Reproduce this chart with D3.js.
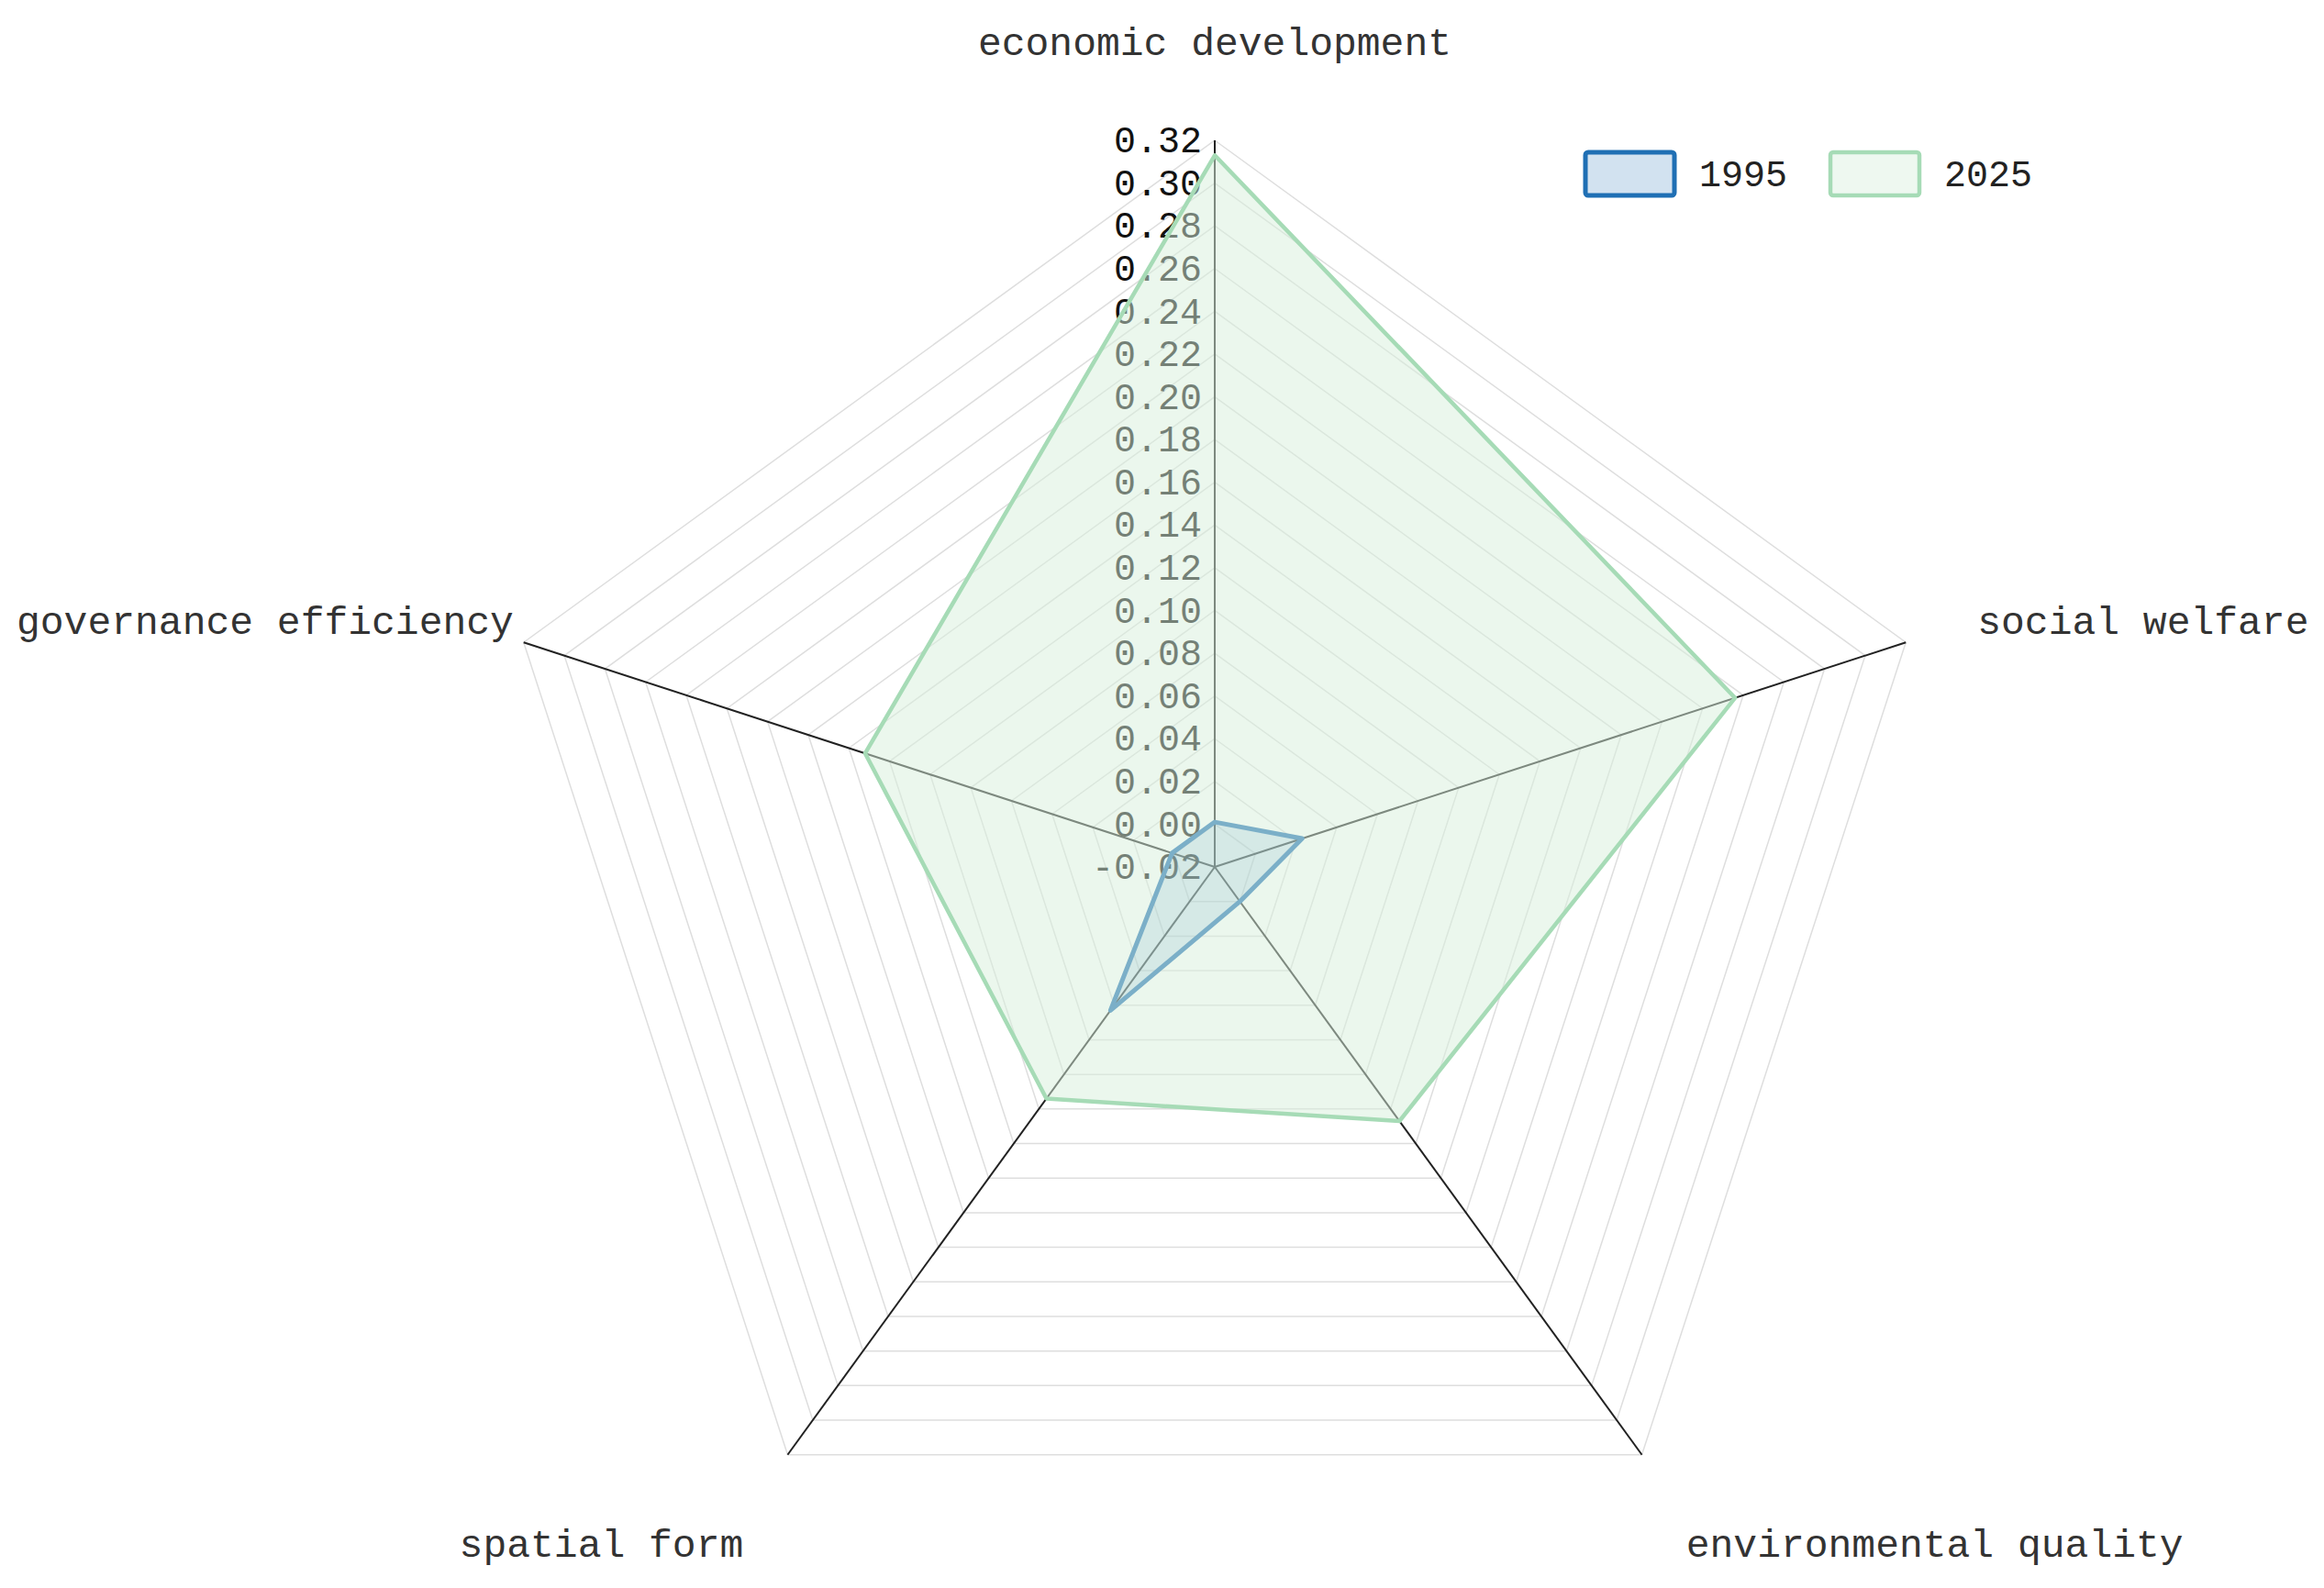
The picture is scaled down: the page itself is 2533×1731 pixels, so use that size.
<!DOCTYPE html>
<html>
<head>
<meta charset="utf-8">
<script src="https://cdn.jsdelivr.net/npm/d3@7/dist/d3.min.js"></script>
<style>
  html, body { margin: 0; padding: 0; background: #fff; }
  svg text { font-family: "Liberation Mono", "DejaVu Sans Mono", monospace; }
</style>
</head>
<body>
<svg id="chart" width="2533" height="1731"></svg>
<script>
// dimensions of the radar
var categories = ["economic development", "social welfare", "environmental quality", "spatial form", "governance efficiency"];
var seriesNames = ["1995", "2025"];
var values1995 = [0.001, 0.023, 0.000, 0.063, 0.001];
var values2025 = [0.313, 0.236, 0.127, 0.114, 0.152];
var tickValues = [-0.02, 0.00, 0.02, 0.04, 0.06, 0.08, 0.10, 0.12, 0.14, 0.16, 0.18, 0.20, 0.22, 0.24, 0.26, 0.28, 0.30, 0.32];

var svg = d3.select("#chart");
var cx = 1324, cy = 945, R = 792;

var r = d3.scaleLinear().domain([-0.02, 0.32]).range([0, R]);

// angle of each axis, clockwise from the top
function angle(i) { return -Math.PI / 2 + i * 2 * Math.PI / categories.length; }
function pt(i, v) {
  var a = angle(i);
  return [cx + r(v) * Math.cos(a), cy + r(v) * Math.sin(a)];
}

var g = svg.append("g");

// grid rings
var ringVals = tickValues.slice(1);
g.selectAll(".ring")
  .data(ringVals)
  .enter().append("polygon")
    .attr("class", "ring")
    .attr("points", function(v) {
      return categories.map(function(c, i) { return pt(i, v).join(","); }).join(" ");
    })
    .attr("fill", "none")
    .attr("stroke", "#dedede")
    .attr("stroke-width", 1.5);

// axis lines
g.selectAll(".axis-line")
  .data(categories)
  .enter().append("line")
    .attr("x1", cx).attr("y1", cy)
    .attr("x2", function(d, i) { return pt(i, 0.32)[0]; })
    .attr("y2", function(d, i) { return pt(i, 0.32)[1]; })
    .attr("stroke", "#222")
    .attr("stroke-width", 2);

// radial tick labels on the first axis
g.selectAll(".tick-label")
  .data(tickValues)
  .enter().append("text")
    .attr("x", cx - 14)
    .attr("y", function(v) { return cy - r(v); })
    .attr("dy", "0.33em")
    .attr("text-anchor", "end")
    .attr("font-size", 40)
    .attr("fill", "#111")
    .text(function(v) { return d3.format(".2f")(v).replace("−", "-"); });

// series polygons
var seriesData = [values1995, values2025];
var strokeCol = ["#1f6fb4", "#a6dbb6"];
var fillCol = ["rgba(31,111,180,0.2)", "rgba(216,240,220,0.5)"];
var strokeW = [5, 4.5];

g.selectAll(".series")
  .data(seriesData)
  .enter().append("polygon")
    .attr("class", "series")
    .attr("points", function(vals) {
      return vals.map(function(v, i) { return pt(i, v).join(","); }).join(" ");
    })
    .attr("fill", function(d, k) { return fillCol[k]; })
    .attr("stroke", function(d, k) { return strokeCol[k]; })
    .attr("stroke-width", function(d, k) { return strokeW[k]; })
    .attr("stroke-linejoin", "round");

// axis names
var gap = 82;
var names = g.selectAll(".axis-name")
  .data(categories)
  .enter().append("text")
    .attr("class", "axis-name")
    .attr("font-size", 43)
    .attr("fill", "#333")
    .each(function(d, i) {
      var a = angle(i), c = Math.cos(a), s = Math.sin(a);
      var x = cx + (R + gap) * c, y = cy + (R + gap) * s;
      var anchor = Math.abs(c) < 0.1 ? "middle" : (c > 0 ? "start" : "end");
      var dy = s < -0.5 ? "-0.25em" : (s > 0.5 ? "1.05em" : "0.37em");
      d3.select(this)
        .attr("x", x).attr("y", y)
        .attr("dy", dy)
        .attr("text-anchor", anchor)
        .text(d);
    });
// keep names inside the page
names.each(function() {
  var b = this.getBBox();
  if (b.x < 18) d3.select(this).attr("x", +d3.select(this).attr("x") + (18 - b.x));
  if (b.x + b.width > 2520) d3.select(this).attr("x", +d3.select(this).attr("x") - (b.x + b.width - 2520));
});

// legend
var legendX = [1728, 1995];
var legend = svg.append("g").selectAll(".legend")
  .data(seriesNames)
  .enter().append("g")
    .attr("transform", function(d, k) { return "translate(" + legendX[k] + ",166)"; });

legend.append("rect")
  .attr("width", 97).attr("height", 47)
  .attr("rx", 3)
  .attr("fill", function(d, k) { return k == 0 ? "#d2e2f0" : "#eef8f0"; })
  .attr("stroke", function(d, k) { return strokeCol[k]; })
  .attr("stroke-width", function(d, k) { return strokeW[k]; });

legend.append("text")
  .attr("x", 124)
  .attr("y", 23)
  .attr("dy", "0.36em")
  .attr("font-size", 40)
  .attr("fill", "#222")
  .text(function(d) { return d; });
</script>
</body>
</html>
